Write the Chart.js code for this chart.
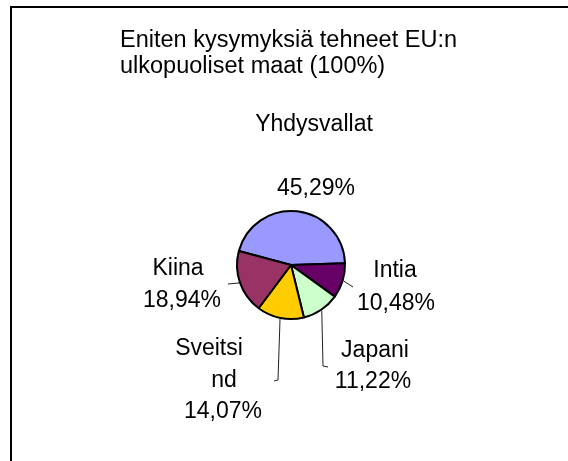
<!DOCTYPE html>
<html>
<head>
<meta charset="utf-8">
<script src="https://cdn.jsdelivr.net/npm/chart.js@4/dist/chart.umd.min.js"></script>
<style>
  body { margin: 0; background: #fff; }
  canvas { display: block; }
</style>
</head>
<body>
<canvas id="pieChart" width="568" height="461"></canvas>
<script>
// data
const countries = ["Yhdysvallat", "Intia", "Japani", "Sveitsind", "Kiina"];
const shares = [45.29, 10.48, 11.22, 14.07, 18.94];
const sliceColors = ["#9999FF", "#660066", "#CCFFCC", "#FFCC00", "#993366"];
const titleLines = ["Eniten kysymyksiä tehneet EU:n", "ulkopuoliset maat (100%)"];

// label placement (text lines with their own x, baseline y) and leader line bends
const labelLayout = [
    { lines: [["Yhdysvallat", 314, 131], ["45,29%", 316, 195]], leader: null },
    { lines: [["Intia", 395, 277], ["10,48%", 396, 310]], leader: [[353, 287]] },
    { lines: [["Japani", 375, 357], ["11,22%", 373, 388]], leader: [[323, 366], [328, 367]] },
    { lines: [["Sveitsi", 209, 355], ["nd", 224, 387], ["14,07%", 223, 418]], leader: [[278, 380], [274, 381]] },
    { lines: [["Kiina", 178, 275], ["18,94%", 182, 307]], leader: [[228, 284]] },
];

const FONT = '"Liberation Sans", Arial, sans-serif';

const fmt = v => v.toFixed(2).replace(".", ",") + "%";

const frameAndLabels = {
    id: "frameAndLabels",
    beforeDraw(chart) {
        const ctx = chart.ctx;
        ctx.save();
        ctx.fillStyle = "#fff";
        ctx.fillRect(0, 0, chart.width, chart.height);
        ctx.strokeStyle = "#000";
        ctx.lineWidth = 2;
        ctx.strokeRect(11, 7, 700, 700);

        ctx.fillStyle = "#000";
        ctx.font = "23.5px " + FONT;
        ctx.textAlign = "left";
        ctx.textBaseline = "alphabetic";
        titleLines.forEach((t, i) => ctx.fillText(t, 120, 47 + i * 26));
        ctx.restore();
    },
    afterDraw(chart) {
        const ctx = chart.ctx;
        const arcs = chart.getDatasetMeta(0).data;
        ctx.save();
        ctx.strokeStyle = "#222";
        ctx.lineWidth = 1;
        arcs.forEach((arc, i) => {
            const lay = labelLayout[i];
            if (!lay.leader) return;
            const p = arc.getProps(["x", "y", "startAngle", "endAngle", "outerRadius"], true);
            const mid = (p.startAngle + p.endAngle) / 2;
            const r = p.outerRadius + 1;
            ctx.beginPath();
            ctx.moveTo(p.x + Math.cos(mid) * r, p.y + Math.sin(mid) * r);
            lay.leader.forEach(pt => ctx.lineTo(pt[0], pt[1]));
            ctx.stroke();
        });

        ctx.fillStyle = "#000";
        ctx.font = "23px " + FONT;
        ctx.textAlign = "center";
        ctx.textBaseline = "alphabetic";
        labelLayout.forEach(lay => {
            lay.lines.forEach(l => ctx.fillText(l[0], l[1], l[2]));
        });
        ctx.restore();
    }
};

new Chart(document.getElementById("pieChart"), {
    type: "pie",
    data: {
        labels: countries,
        datasets: [{
            data: shares,
            backgroundColor: sliceColors,
            borderColor: "#000",
            borderWidth: 2,
        }],
    },
    options: {
        responsive: false,
        animation: false,
        rotation: 285,
        layout: { padding: { left: 236, right: 222, top: 210, bottom: 141 } },
        plugins: {
            legend: { display: false },
            title: { display: false },
            tooltip: { enabled: false },
        },
    },
    plugins: [frameAndLabels],
});
</script>
</body>
</html>
